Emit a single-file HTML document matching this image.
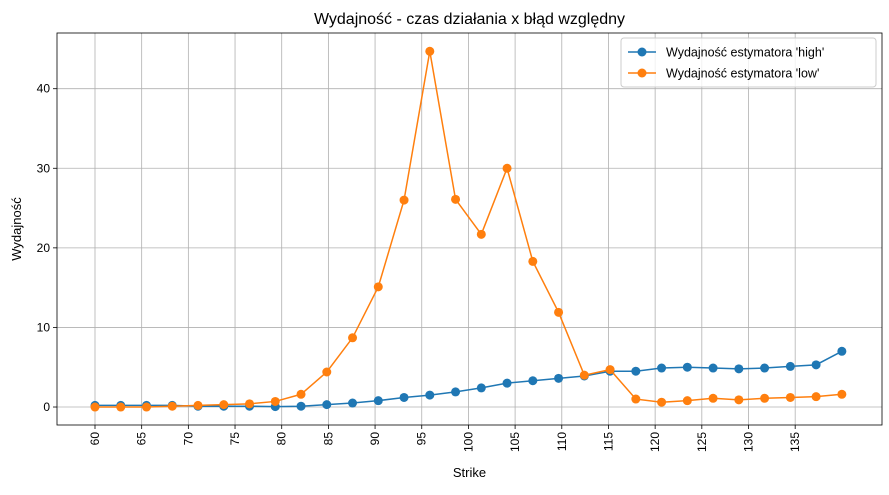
<!DOCTYPE html>
<html><head><meta charset="utf-8"><style>
body{margin:0;background:#fff;}
svg text{font-family:"Liberation Sans","DejaVu Sans",sans-serif;}
</style></head><body>
<svg id="chart" width="889" height="490" xmlns="http://www.w3.org/2000/svg"></svg>
<script>
const strikes = [];
for (let i = 0; i < 30; i++) strikes.push(60 + i * 80 / 29);
const highValues = [0.2,0.2,0.2,0.2,0.1,0.1,0.1,0.05,0.1,0.3,0.5,0.8,1.2,1.5,1.9,2.4,3.0,3.3,3.6,3.9,4.5,4.5,4.9,5.0,4.9,4.8,4.9,5.1,5.3,7.0];
const lowValues = [0,0,0,0.1,0.2,0.3,0.4,0.7,1.6,4.4,8.7,15.1,26.0,44.7,26.1,21.7,30.0,18.3,11.9,4.0,4.7,1.0,0.6,0.8,1.1,0.9,1.1,1.2,1.3,1.6];
const xTicks = [60,65,70,75,80,85,90,95,100,105,110,115,120,125,130,135];
const yTicks = [0,10,20,30,40];

const NS = "http://www.w3.org/2000/svg";
const svg = document.getElementById('chart');
const L = 57, R = 882, T = 33, B = 425;
const xMin = 55.93, xMax = 144.3, yMin = -2.26, yMax = 47.0;
const xs = v => L + (v - xMin) / (xMax - xMin) * (R - L);
const ys = v => B - (v - yMin) / (yMax - yMin) * (B - T);
function mk(tag, attrs, parent) {
  const e = document.createElementNS(NS, tag);
  for (const k in attrs) e.setAttribute(k, attrs[k]);
  (parent || svg).appendChild(e);
  return e;
}
const grid = mk('g', {});


xTicks.forEach(t => {
  const x = xs(t);
  mk('line', {x1:x, x2:x, y1:T, y2:B, stroke:'#b0b0b0', 'stroke-width':0.8}, grid);
  mk('line', {x1:x, x2:x, y1:B, y2:B+4, stroke:'#000', 'stroke-width':0.8});
  const tx = mk('text', {x:0, y:0, 'font-size':12, 'text-anchor':'end', transform:`translate(${x+4},${B+7}) rotate(-90)`});
  
  
  tx.textContent = t;
});
yTicks.forEach(t => {
  const y = ys(t);
  mk('line', {x1:L, x2:R, y1:y, y2:y, stroke:'#b0b0b0', 'stroke-width':0.8}, grid);
  mk('line', {x1:L-4, x2:L, y1:y, y2:y, stroke:'#000', 'stroke-width':0.8});
  const tx = mk('text', {x:L-7, y:y+4, 'font-size':12, 'text-anchor':'end'});
  
  
  tx.textContent = t;
});
function series(vals, color, name) {
  const g = mk('g', {});
  
  
  mk('polyline', {points: vals.map((v,i)=>xs(strikes[i])+','+ys(v)).join(' '), fill:'none', stroke:color, 'stroke-width':1.5}, g);
  vals.forEach((v,i) => {
    const c = mk('circle', {cx:xs(strikes[i]), cy:ys(v), r:4.5, fill:color}, g);
    
    
  });
}
series(highValues, '#1f77b4', 'series-high');
series(lowValues, '#ff7f0e', 'series-low');
mk('rect', {x:L, y:T, width:R-L, height:B-T, fill:'none', stroke:'#000', 'stroke-width':0.8});
const title = mk('text', {x:(L+R)/2, y:24, 'font-size':16, 'text-anchor':'middle'});


title.textContent = "Wydajność - czas działania x błąd względny";
const xl = mk('text', {x:(L+R)/2, y:477, 'font-size':13, 'text-anchor':'middle'});


xl.textContent = "Strike";
const yl = mk('text', {x:0, y:0, 'font-size':13, 'text-anchor':'middle', transform:`translate(21,${(T+B)/2}) rotate(-90)`});


yl.textContent = "Wydajność";
const lg = mk('g', {});


mk('rect', {x:621, y:38, width:255, height:49, rx:3, fill:'#fff', 'fill-opacity':0.8, stroke:'#ccc'}, lg);
[['#1f77b4',"Wydajność estymatora 'high'",52],['#ff7f0e',"Wydajność estymatora 'low'",73]].forEach(([c,t,y])=>{
  const e = mk('g', {}, lg);
  
  
  mk('line', {x1:628, x2:656, y1:y, y2:y, stroke:c, 'stroke-width':1.5}, e);
  mk('circle', {cx:642, cy:y, r:4.5, fill:c}, e);
  const tx = mk('text', {x:666, y:y+4.5, 'font-size':12.5}, e);
  tx.textContent = t;
});
</script>
</body></html>
